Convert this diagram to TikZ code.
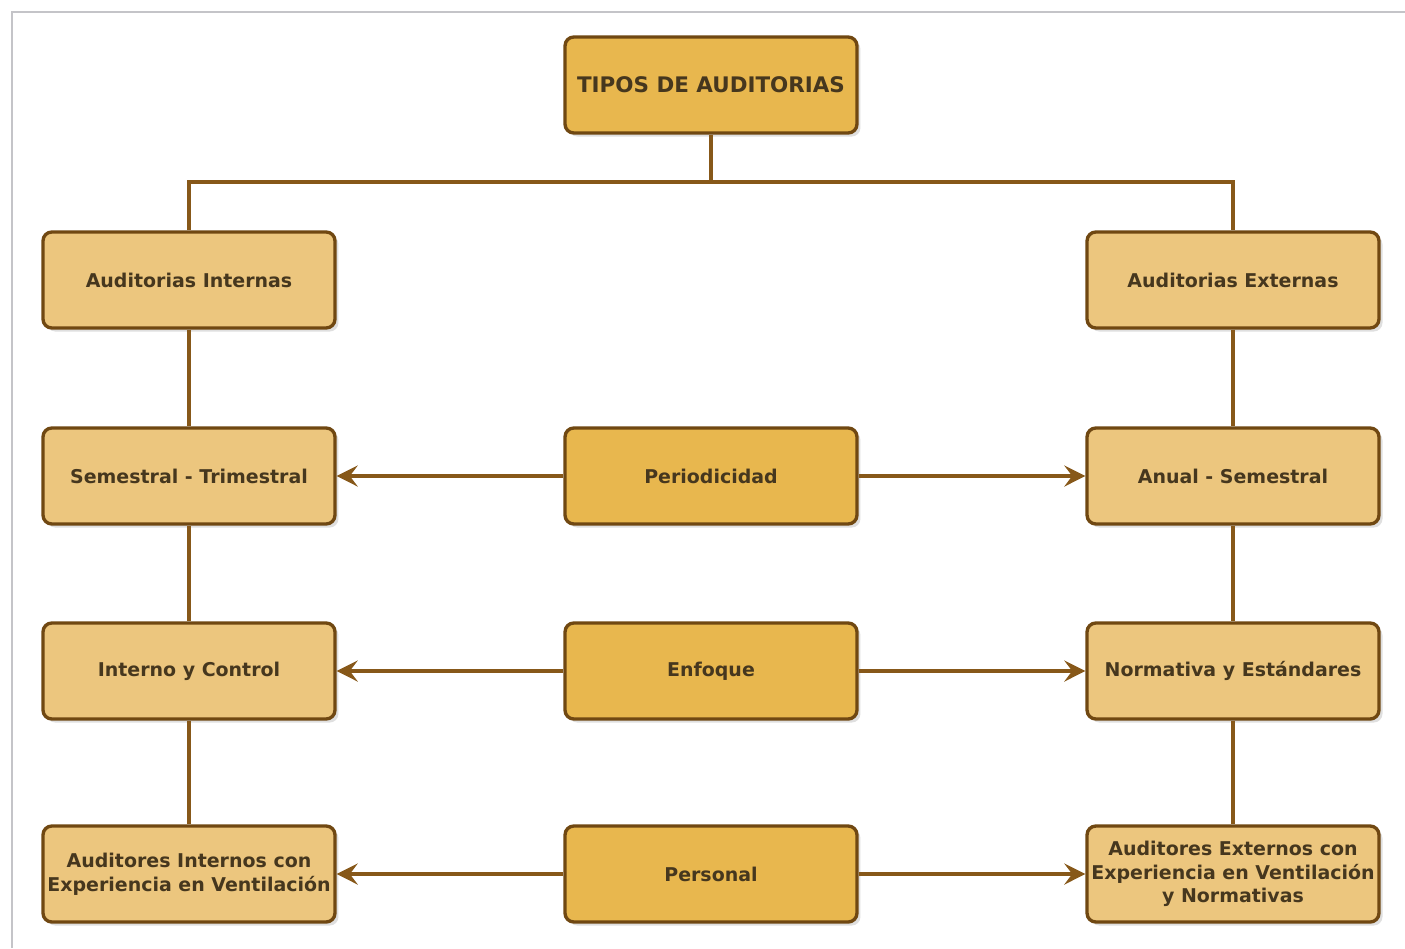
\documentclass[tikz,border=0pt]{standalone}
\usepackage{fontspec}
\setmainfont{DejaVu Sans}
\usetikzlibrary{arrows.meta,shadows}
\definecolor{framegray}{RGB}{196,196,200}
\definecolor{boxborder}{RGB}{112,72,18}
\definecolor{linebrown}{RGB}{135,88,25}
\definecolor{centerfill}{RGB}{232,183,78}
\definecolor{sidefill}{RGB}{236,198,126}
\definecolor{txt}{RGB}{70,55,30}
\tikzset{
  basebox/.style={draw=boxborder, line width=1.9pt, rounded corners=5pt,
    minimum width=5.84cm, minimum height=1.92cm, inner sep=0pt,
    align=center, text=txt, font=\bfseries\fontsize{10.8}{13.5}\selectfont,
    drop shadow={shadow xshift=2pt, shadow yshift=-2pt, opacity=0.25, fill=gray}},
  cbox/.style={basebox, fill=centerfill},
  sbox/.style={basebox, fill=sidefill},
  conn/.style={draw=linebrown, line width=1.8pt},
  arr/.style={conn, -{Stealth[length=12pt,width=12pt,inset=4.5pt]}}
}
\begin{document}
\begin{tikzpicture}[x=0.02cm,y=-0.02cm]
\useasboundingbox (0,0) rectangle (1405,948);
\fill[white] (0,0) rectangle (1405,948);
\draw[framegray, line width=1.6pt] (12,948) -- (12,12) -- (1405,12);
% nodes
\node[cbox, font=\bfseries\fontsize{12.2}{14}\selectfont] (top) at (711,85) {TIPOS DE AUDITORIAS};
\node[sbox] (int) at (189,280) {Auditorias Internas};
\node[sbox] (ext) at (1233,280) {Auditorias Externas};
\node[sbox] (l2) at (189,476) {Semestral - Trimestral};
\node[cbox] (c2) at (711,476) {Periodicidad};
\node[sbox] (r2) at (1233,476) {Anual - Semestral};
\node[sbox] (l3) at (189,671) {Interno y Control};
\node[cbox] (c3) at (711,671) {Enfoque};
\node[sbox] (r3) at (1233,671) {Normativa y Estándares};
\node[sbox] (l4) at (189,874) {Auditores Internos con\\Experiencia en Ventilación};
\node[cbox] (c4) at (711,874) {Personal};
\node[sbox] (r4) at (1233,874) {Auditores Externos con\\Experiencia en Ventilación\\y Normativas};
% tree connectors
\coordinate (bus) at (711,182);
\draw[conn] (top.south) -- (bus);
\draw[conn] (int.north) |- (bus) -| (ext.north);
\draw[conn] (int) -- (l2);
\draw[conn] (l2) -- (l3);
\draw[conn] (l3) -- (l4);
\draw[conn] (ext) -- (r2);
\draw[conn] (r2) -- (r3);
\draw[conn] (r3) -- (r4);
% arrows
\draw[arr] (c2) -- (l2);
\draw[arr] (c2) -- (r2);
\draw[arr] (c3) -- (l3);
\draw[arr] (c3) -- (r3);
\draw[arr] (c4) -- (l4);
\draw[arr] (c4) -- (r4);
\end{tikzpicture}
\end{document}
